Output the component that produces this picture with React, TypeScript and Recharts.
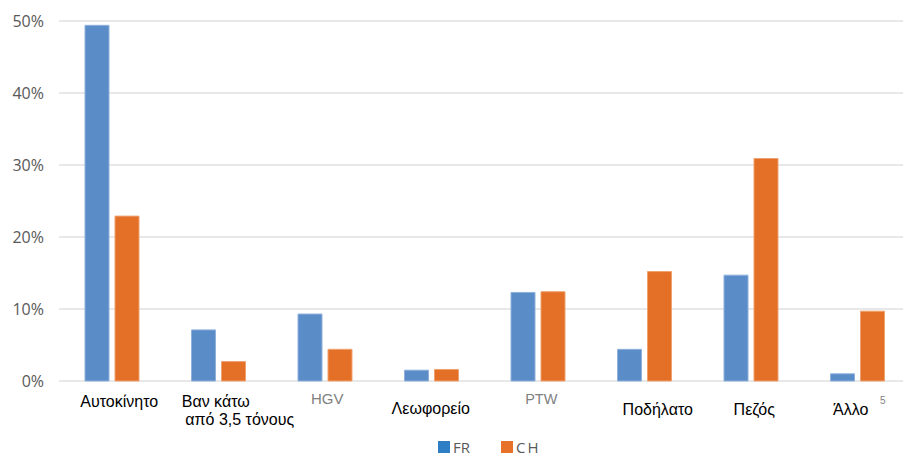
import { Bar, BarChart, CartesianGrid, Legend, XAxis, YAxis } from "recharts";

const CATEGORIES = [
  "Αυτοκίνητο",
  "Βαν κάτω|από 3,5 τόνους",
  "HGV",
  "Λεωφορείο",
  "PTW",
  "Ποδήλατο",
  "Πεζός",
  "Άλλο",
];
const FR = [49.4, 7.1, 9.3, 1.5, 12.3, 4.4, 14.7, 1.0];
const CH = [22.9, 2.7, 4.4, 1.6, 12.4, 15.2, 30.9, 9.7];
const Y_TICKS = [0, 10, 20, 30, 40, 50];

const data = CATEGORIES.map((name, i) => ({ name, FR: FR[i], CH: CH[i] }));

const FR_COLOR = "#5a8cc8";
const CH_COLOR = "#e46f27";
const TEXT_GREY = "#595959";

// per-label nudges so the axis text sits where the original slide put it
const TICK_STYLE: Record<string, { dx: number[]; dy: number[]; color: string; size: number }> = {
  "Αυτοκίνητο": { dx: [7], dy: [26], color: "#000", size: 16 },
  "Βαν κάτω|από 3,5 τόνους": { dx: [-3, 21], dy: [26, 44], color: "#000", size: 16 },
  HGV: { dx: [2], dy: [23], color: "#7f7f7f", size: 15 },
  "Λεωφορείο": { dx: [-1], dy: [33], color: "#000", size: 16 },
  PTW: { dx: [3], dy: [23], color: "#7f7f7f", size: 14.5 },
  "Ποδήλατο": { dx: [13], dy: [34], color: "#000", size: 16 },
  "Πεζός": { dx: [3], dy: [34], color: "#000", size: 16 },
  "Άλλο": { dx: [-7], dy: [34], color: "#000", size: 16 },
};

function CategoryTick(props: any) {
  const { x, y, payload } = props;
  const label: string = payload.value;
  const st = TICK_STYLE[label];
  const lines = label.split("|");
  return (
    <g>
      {lines.map((line, i) => (
        <text
          key={i}
          x={x + st.dx[i]}
          y={y + st.dy[i]}
          textAnchor="middle"
          fill={st.color}
          fontSize={st.size}
          fontFamily="'Liberation Sans', Arial, sans-serif"
        >
          {line}
        </text>
      ))}
      {label === "Άλλο" ? (
        <text
          x={x + 25}
          y={y + 23}
          textAnchor="middle"
          fill="#7f7f7f"
          fontSize={10}
          fontFamily="'Liberation Sans', Arial, sans-serif"
        >
          5
        </text>
      ) : null}
    </g>
  );
}

function LegendContent() {
  const items = [
    { label: "FR", color: "#2e7ec5" },
    { label: "CH", color: "#e8712a" },
  ];
  return (
    <div style={{ display: "flex", fontFamily: "'Open Sans', sans-serif" }}>
      {items.map((it) => (
        <div
          key={it.label}
          style={{ display: "flex", alignItems: "center", marginRight: 31, color: TEXT_GREY, fontSize: 15 }}
        >
          <span style={{ width: 12, height: 12, background: it.color, display: "inline-block", marginRight: 3 }} />
          <span style={{ lineHeight: "16px", letterSpacing: it.label === "CH" ? 2 : 0 }}>{it.label}</span>
        </div>
      ))}
    </div>
  );
}

export default function App() {
  return (
    <div
      style={{
        position: "absolute",
        left: 0,
        top: 0,
        width: 903,
        height: 453,
        overflow: "hidden",
        background: "#fff",
      }}
    >
      <BarChart
        width={911}
        height={453}
        data={data}
        margin={{ top: 21, right: 0, bottom: 0, left: 0 }}
        barCategoryGap={26}
        barGap={6}
      >
        <CartesianGrid vertical={false} stroke="#e0e0e0" strokeWidth={1.5} />
        <XAxis
          dataKey="name"
          height={72}
          axisLine={false}
          tickLine={false}
          tickSize={0}
          tickMargin={0}
          interval={0}
          tick={<CategoryTick />}
        />
        <YAxis
          width={59}
          domain={[0, 50]}
          ticks={Y_TICKS}
          tickFormatter={(v) => `${v}%`}
          axisLine={false}
          tickLine={false}
          tickSize={0}
          tickMargin={15}
          tick={{ fill: TEXT_GREY, fontSize: 16, fontFamily: "'Open Sans', sans-serif" }}
        />
        <Legend
          layout="horizontal"
          verticalAlign="middle"
          align="center"
          wrapperStyle={{ top: 439, left: 438, width: "auto" }}
          content={<LegendContent />}
        />
        <Bar dataKey="FR" fill={FR_COLOR} stroke="#8fb1dc" strokeWidth={1} isAnimationActive={false} />
        <Bar dataKey="CH" fill={CH_COLOR} stroke="#f0a170" strokeWidth={1} isAnimationActive={false} />
      </BarChart>
    </div>
  );
}
